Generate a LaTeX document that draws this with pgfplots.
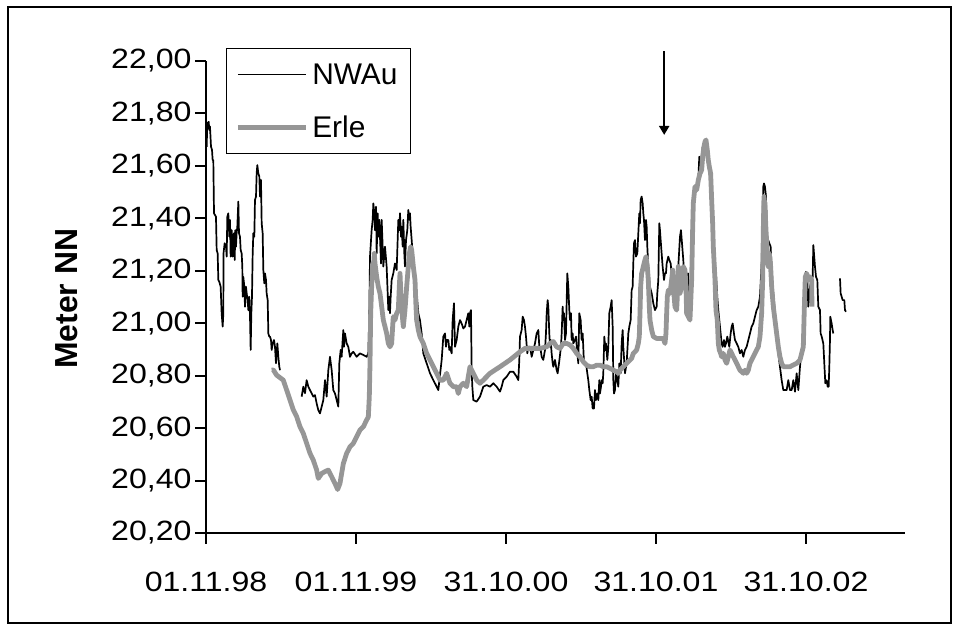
\documentclass[border=0pt]{standalone}
\usepackage{fontspec}
\setmainfont{Liberation Sans}
\usepackage{graphicx}
\usepackage{pgfplots}
\usepackage{pgfplotstable}
\pgfplotsset{compat=1.18}
\usetikzlibrary{arrows.meta}
\definecolor{erlegray}{RGB}{150,150,150}
\newcommand{\W}[1]{\scalebox{1.15}[1]{#1}}

\pgfplotstableread{
day m
1.6 21.673
3.2 21.762
6.5 21.768
8.1 21.737
9.7 21.750
12.2 21.673
14.6 21.661
16.2 21.622
17.8 21.622
19.5 21.419
24.3 21.406
26.0 21.279
28.4 21.266
30.0 21.165
32.4 21.158
35.7 21.139
38.1 21.038
40.6 20.987
42.2 21.038
42.6 21.266
45.4 21.305
48.7 21.292
50.3 21.254
51.9 21.406
54.3 21.419
56.8 21.330
58.4 21.394
60.0 21.254
62.5 21.355
64.9 21.254
66.5 21.330
68.1 21.343
69.8 21.241
71.4 21.355
73.0 21.292
74.6 21.343
76.2 21.368
78.7 21.464
80.3 21.343
82.7 21.330
84.4 21.279
86.8 21.266
88.4 21.216
89.2 21.101
90.8 21.177
93.3 21.139
94.9 21.063
97.3 21.139
99.0 21.114
101.4 21.088
103.0 21.050
105.4 21.101
107.1 21.025
108.7 20.898
110.3 21.038
111.9 21.101
113.6 21.266
115.2 21.343
117.6 21.330
119.2 21.470
121.7 21.483
123.3 21.572
124.9 21.603
127.3 21.572
129.8 21.559
131.4 21.483
133.8 21.546
135.5 21.381
137.9 21.343
139.5 21.203
141.9 21.152
143.6 21.190
146.0 21.165
147.6 21.114
150.1 21.088
151.7 20.961
154.1 20.949
155.7 20.949
158.2 20.936
159.8 20.898
162.2 20.923
165.5 20.936
167.9 20.910
170.3 20.847
173.6 20.923
176.0 20.872
178.4 20.834
180.1 20.821
200.0 nan
232.8 20.720
236.8 20.758
240.9 20.733
244.9 20.783
249.0 20.758
253.0 20.745
257.1 20.733
261.1 20.720
265.2 20.726
269.3 20.694
273.3 20.669
277.4 20.656
285.5 20.707
289.6 20.783
293.6 20.720
297.7 20.821
301.7 20.872
305.8 20.821
309.8 20.745
313.9 20.732
318.0 20.707
322.0 20.682
324.4 20.847
327.7 20.898
330.1 20.872
332.6 20.936
334.2 20.974
335.8 20.910
338.2 20.961
342.3 20.923
346.3 20.910
350.4 20.872
354.5 20.885
358.5 20.891
366.6 20.872
374.7 20.885
382.8 20.879
391.0 20.872
395.0 20.885
397.4 21.038
399.1 21.254
403.1 21.355
405.6 21.394
407.2 21.457
409.6 21.419
411.2 21.355
413.7 21.444
415.3 21.266
417.7 21.419
419.3 21.330
421.8 21.394
423.4 21.330
425.8 21.228
427.5 21.394
429.9 21.292
431.5 21.216
435.6 21.292
439.6 21.216
443.7 21.050
446.1 21.101
447.7 21.038
449.4 21.101
451.8 21.165
455.8 21.190
459.9 21.228
464.0 21.203
468.0 21.394
470.4 21.355
472.1 21.419
474.5 21.330
476.1 21.368
478.6 21.292
480.2 21.394
482.6 21.266
484.2 21.216
486.7 21.317
489.9 21.355
492.3 21.432
494.8 21.394
496.4 21.419
498.0 21.368
500.5 21.317
502.9 21.266
506.1 21.216
508.6 21.165
512.6 21.114
516.7 21.038
520.7 21.012
524.8 20.961
528.8 20.885
537.0 20.847
545.1 20.809
553.2 20.783
561.3 20.758
565.3 20.745
573.5 20.860
577.5 20.949
581.6 20.961
584.0 20.910
585.6 20.936
589.7 20.936
592.1 20.898
593.7 20.910
597.8 20.885
600.2 21.012
603.5 21.076
605.9 20.910
610.0 20.936
614.0 20.987
618.1 21.012
622.1 20.999
626.2 20.980
630.2 20.987
634.3 21.012
638.3 21.038
640.8 20.987
642.4 21.038
644.8 21.050
646.5 20.821
648.1 20.758
650.5 20.707
658.6 20.701
666.7 20.720
674.8 20.758
683.0 20.764
691.1 20.758
699.2 20.771
707.3 20.758
715.4 20.739
719.5 20.758
723.5 20.783
731.6 20.796
739.7 20.815
747.8 20.815
756.0 20.796
760.0 20.783
762.4 20.860
764.1 20.949
768.1 20.974
770.6 21.025
773.8 21.012
776.2 20.987
778.7 20.949
781.9 20.885
784.3 20.910
788.4 20.910
792.5 20.872
796.5 20.898
800.6 20.923
804.6 20.961
808.7 20.974
811.1 20.910
814.4 20.898
816.8 20.872
820.8 20.860
824.9 20.898
827.3 20.961
829.0 21.038
831.4 21.088
833.0 21.063
835.4 20.961
837.1 20.910
838.7 20.936
841.1 20.885
843.6 20.847
845.2 20.834
849.2 20.860
853.3 20.821
855.7 20.809
859.0 20.847
863.8 20.910
865.5 20.961
867.9 21.063
869.5 21.012
871.1 21.038
873.6 20.936
876.0 20.961
879.2 21.190
881.7 21.139
884.1 21.050
885.7 21.012
888.2 21.038
889.8 20.936
892.2 20.961
893.8 20.923
897.9 20.936
900.3 20.949
903.6 20.885
906.0 20.847
908.4 21.038
911.7 21.012
914.1 20.936
916.6 20.961
919.8 20.847
924.7 20.847
927.9 20.809
930.3 20.783
932.8 20.745
936.0 20.707
938.5 20.720
940.9 20.675
944.1 20.675
946.6 20.745
949.0 20.707
952.2 20.732
954.7 20.707
957.1 20.783
958.7 20.732
961.2 20.758
962.8 20.783
965.2 20.771
966.8 20.809
969.3 20.949
971.7 20.898
973.3 20.923
976.6 20.860
979.0 20.910
981.4 21.038
984.7 21.063
987.1 21.088
989.6 20.987
991.2 20.783
992.8 20.732
995.2 20.745
997.7 20.809
1000.9 20.783
1003.3 20.758
1005.8 20.847
1009.0 20.809
1011.5 20.923
1013.9 20.974
1015.5 20.910
1019.6 20.809
1023.6 20.847
1027.7 20.961
1030.1 20.987
1033.4 21.012
1035.8 21.126
1038.2 21.139
1039.8 21.228
1041.5 21.305
1043.9 21.317
1046.3 21.254
1049.6 21.266
1052.8 21.368
1054.4 21.419
1056.1 21.381
1057.7 21.470
1060.1 21.483
1062.6 21.457
1064.2 21.419
1065.8 21.394
1068.2 21.317
1070.7 21.394
1072.3 21.368
1073.9 21.292
1076.3 21.216
1078.8 21.165
1080.4 21.139
1084.5 21.114
1088.5 21.076
1092.6 21.050
1096.6 21.063
1098.2 21.114
1100.7 21.165
1103.1 21.381
1104.7 21.355
1106.4 21.317
1108.8 21.266
1111.2 21.216
1114.5 21.165
1116.9 21.190
1119.3 21.190
1121.0 21.228
1125.0 21.254
1127.4 21.241
1130.7 21.228
1133.1 21.190
1137.2 21.139
1141.2 21.152
1145.3 21.165
1149.3 21.216
1153.4 21.330
1155.8 21.355
1158.3 21.305
1161.5 21.241
1163.9 21.165
1166.4 21.152
1169.6 21.165
1172.9 21.190
1176.1 21.114
1179.4 21.038
1181.8 21.216
1184.2 21.355
1185.8 21.444
1189.9 21.495
1194.0 21.521
1198.0 21.546
1200.4 21.635
1203.7 21.610
1206.1 21.635
1208.6 21.673
1211.8 21.660
1214.2 21.699
1218.3 21.686
1222.3 21.610
1224.8 21.571
1228.0 21.546
1230.5 21.495
1232.9 21.419
1234.5 21.292
1238.6 21.228
1241.0 21.190
1244.2 21.101
1246.7 21.050
1249.1 21.012
1252.4 20.961
1254.8 20.923
1257.2 20.910
1260.5 20.936
1262.9 20.910
1265.3 20.923
1268.6 20.949
1273.4 20.910
1276.7 20.961
1279.1 20.987
1281.6 20.999
1284.8 20.961
1287.2 20.936
1291.3 20.923
1295.3 20.910
1299.4 20.885
1303.5 20.898
1307.5 20.872
1311.6 20.898
1315.6 20.910
1319.7 20.936
1323.7 20.961
1327.8 20.987
1331.8 20.999
1335.9 21.025
1340.0 21.050
1344.0 21.063
1348.1 21.101
1352.1 21.228
1354.6 21.419
1356.2 21.521
1357.8 21.533
1360.2 21.521
1362.7 21.483
1365.9 21.317
1368.3 21.317
1370.8 21.305
1374.0 21.292
1376.5 21.216
1378.9 21.139
1382.1 21.088
1384.6 21.038
1387.0 21.012
1390.3 20.936
1392.7 20.885
1396.7 20.834
1400.8 20.783
1404.8 20.745
1408.9 20.745
1413.0 20.745
1417.0 20.783
1421.1 20.745
1425.2 20.745
1429.2 20.783
1433.3 20.739
1437.3 20.809
1441.4 20.745
1445.4 20.834
1447.9 20.872
1451.9 20.923
1455.2 21.012
1457.6 21.139
1460.0 21.196
1463.3 21.165
1465.7 21.063
1469.8 21.139
1473.8 21.165
1476.3 21.177
1477.9 21.298
1479.5 21.266
1481.9 21.216
1484.4 21.177
1487.6 21.165
1490.0 21.063
1494.1 21.050
1495.7 20.961
1498.2 20.949
1502.2 20.923
1504.6 20.847
1507.1 20.771
1510.3 20.783
1512.8 20.758
1515.2 20.758
1516.8 20.834
1518.4 20.936
1519.2 21.025
1522.5 20.999
1524.9 20.974
1526.5 20.961
1535.0 nan
1542.8 21.171
1544.4 21.114
1549.3 21.088
1553.3 21.088
1554.9 21.050
1557.4 21.044
}\nwau

\pgfplotstableread{
day m
159.8 20.821
163.8 20.822
171.9 20.802
188.1 20.783
196.3 20.745
204.4 20.707
212.5 20.669
220.6 20.644
228.7 20.605
236.8 20.580
244.9 20.542
253.0 20.504
261.1 20.478
269.3 20.440
273.3 20.408
281.4 20.427
289.5 20.434
297.6 20.440
305.7 20.415
313.9 20.389
320.3 20.366
326.0 20.389
334.2 20.465
342.3 20.504
350.4 20.529
358.5 20.542
366.6 20.567
374.7 20.593
382.8 20.605
391.0 20.631
395.0 20.643
397.4 20.720
399.1 20.847
400.7 21.038
403.1 21.139
405.6 21.228
407.2 21.203
409.6 21.266
411.2 21.228
415.3 21.177
419.3 21.139
423.4 21.114
427.5 21.063
431.5 21.012
435.6 20.987
439.6 20.961
443.7 20.923
447.7 20.910
451.8 20.923
454.2 20.987
455.8 21.025
459.9 21.012
464.0 21.038
468.0 21.050
470.4 21.139
472.1 21.190
474.5 21.101
476.1 21.076
478.6 21.012
480.2 20.987
484.2 21.050
488.3 21.139
492.3 21.216
494.8 21.266
498.0 21.292
500.5 21.279
504.5 21.216
508.6 21.165
511.0 21.063
512.6 21.012
516.7 20.974
520.7 20.949
524.8 20.936
528.8 20.923
537.0 20.885
545.1 20.860
553.2 20.834
561.3 20.809
569.4 20.783
577.5 20.783
585.6 20.809
593.7 20.771
602.0 20.758
610.0 20.758
614.0 20.732
618.1 20.758
626.2 20.771
634.3 20.758
638.3 20.796
642.4 20.834
646.5 20.821
650.5 20.809
654.6 20.796
658.6 20.783
666.7 20.771
674.8 20.783
691.1 20.809
715.4 20.834
739.7 20.860
764.1 20.891
776.2 20.904
796.5 20.904
812.7 20.904
829.0 20.910
837.1 20.923
845.2 20.930
853.3 20.910
861.4 20.904
869.5 20.923
877.6 20.923
885.7 20.917
893.8 20.904
902.0 20.885
910.1 20.872
918.2 20.853
926.3 20.840
934.4 20.834
942.5 20.834
950.6 20.840
958.7 20.840
966.8 20.834
975.0 20.834
983.1 20.828
991.2 20.821
999.3 20.815
1003.3 20.809
1007.4 20.821
1015.5 20.834
1023.6 20.847
1031.7 20.860
1035.8 20.866
1039.8 20.885
1048.0 20.898
1052.0 20.923
1054.4 20.949
1056.1 21.038
1057.7 21.139
1060.1 21.190
1064.2 21.216
1068.2 21.241
1070.7 21.254
1073.9 21.216
1076.3 21.165
1078.8 21.063
1080.4 21.012
1084.5 20.974
1088.5 20.949
1096.6 20.942
1104.7 20.942
1112.8 20.942
1116.9 20.923
1119.3 20.961
1121.0 21.038
1122.6 21.101
1125.0 21.126
1129.1 21.114
1133.1 21.165
1135.6 21.203
1137.2 21.139
1141.2 21.063
1145.3 21.050
1146.9 21.101
1149.3 21.216
1153.4 21.114
1157.5 21.139
1161.5 21.216
1165.6 21.203
1168.0 21.139
1169.6 21.038
1173.7 21.025
1177.7 21.012
1181.8 21.165
1184.2 21.355
1185.8 21.457
1189.9 21.521
1194.0 21.508
1198.0 21.546
1202.1 21.571
1206.1 21.584
1208.6 21.635
1211.8 21.673
1214.2 21.692
1216.7 21.699
1219.9 21.660
1222.3 21.622
1224.8 21.597
1228.0 21.571
1230.5 21.470
1232.9 21.381
1234.5 21.292
1238.6 21.165
1241.0 21.050
1244.2 21.012
1246.7 20.923
1249.1 20.898
1252.4 20.885
1254.8 20.872
1258.8 20.885
1262.9 20.860
1267.0 20.847
1271.0 20.872
1275.1 20.898
1279.1 20.885
1283.2 20.872
1287.2 20.860
1291.3 20.847
1295.3 20.834
1299.4 20.821
1307.5 20.809
1311.6 20.821
1315.6 20.809
1319.7 20.821
1323.7 20.847
1327.8 20.860
1331.8 20.872
1335.9 20.885
1340.0 20.898
1344.0 20.910
1348.1 20.949
1352.1 21.038
1354.6 21.165
1356.2 21.355
1357.8 21.483
1360.2 21.444
1362.7 21.355
1365.9 21.266
1368.3 21.216
1370.8 21.266
1374.0 21.216
1376.5 21.139
1380.5 21.063
1384.6 21.012
1388.6 20.961
1392.7 20.910
1396.7 20.872
1400.8 20.847
1404.8 20.834
1413.0 20.834
1421.1 20.834
1429.2 20.841
1437.3 20.847
1445.4 20.860
1449.5 20.885
1453.5 20.910
1455.2 21.012
1456.8 21.101
1458.4 21.177
1461.7 21.190
1465.7 21.165
1469.8 21.177
1473.8 21.165
1474.6 21.063
}\erle

\begin{document}
\begin{tikzpicture}[x=1bp,y=1bp]
\useasboundingbox (-206,-98) rectangle (753,533);
\draw[line width=1.5bp] (-198,-90) rectangle (745,526);
\begin{axis}[
  at={(0,0)}, anchor=south west,
  scale only axis, width=699bp, height=472bp,
  xmin=0, xmax=1701, ymin=20.2, ymax=22.0,
  axis lines*=left,
  axis line style={-, line width=2bp, black},
  tick align=outside,
  major tick length=11bp,
  tick style={line width=2bp, black},
  xtick={0,365,730,1095,1460},
  xticklabels={\W{01.11.98},\W{01.11.99},\W{31.10.00},\W{31.10.01},\W{31.10.02}},
  ytick={20.2,20.4,20.6,20.8,21.0,21.2,21.4,21.6,21.8,22.0},
  yticklabels={\W{20,20},\W{20,40},\W{20,60},\W{20,80},\W{21,00},\W{21,20},\W{21,40},\W{21,60},\W{21,80},\W{22,00}},
  tick label style={font=\fontsize{28}{33}\selectfont},
  xticklabel style={yshift=-25bp},
  ylabel={Meter NN},
  ylabel style={font=\bfseries\fontsize{32}{38}\selectfont, at={(axis description cs:-0.199,0.496)}, anchor=center},
  unbounded coords=jump,
  clip=false,
  legend style={at={(axis description cs:0.0286,1.0275)}, anchor=north west,
    draw=black, line width=1bp, font=\fontsize{30}{36}\selectfont,
    inner xsep=9bp, inner ysep=15bp, row sep=30bp, column sep=0bp,
    nodes={inner xsep=4bp, inner ysep=0bp}},
  legend cell align=left,
  legend image code/.code={\draw[#1] (0bp,0bp) -- (68bp,0bp);},
]
\addplot[black, line width=1.7bp, line join=round] table[x=day, y=m] {\nwau};
\addlegendentry{NWAu}
\addplot[erlegray, line width=4.8bp, line join=round] table[x=day, y=m] {\erle};
\addlegendentry{Erle}
\draw[line width=2bp, -{Triangle[width=10bp,length=9bp]}] (axis cs:1115,22.038) -- (axis cs:1115,21.718);
\end{axis}
\end{tikzpicture}
\end{document}
